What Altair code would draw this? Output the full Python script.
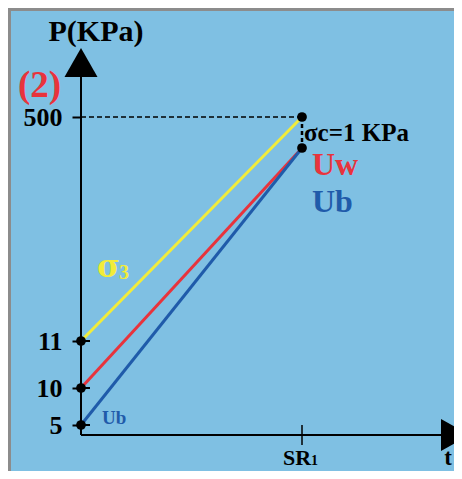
import altair as alt
import pandas as pd

# ---- data -------------------------------------------------------------
series = ["σ3", "Uw", "Ub"]
series_colors = ["#F2EC3A", "#E8333C", "#1F5BAA"]
p_start = [11, 10, 5]          # KPa at t = 0
p_end = [500, 499, 499]        # KPa at t = SR1
t_start = [0, 0, 0]
t_end = [1, 1, 1]              # SR1
y_ticks = [5, 10, 11, 500]
sr1 = 1
sigma_c_top = 500
sigma_c_bottom = 499

# schematic (non-linear) pressure axis
y_domain = [5, 10, 11, 499, 500]
y_range = [417, 380, 333, 140, 109]

serif = "Liberation Serif"
bg = "#7FC0E3"
border = "#8C8C8C"

lines_df = pd.DataFrame(
    [{"series": s, "t": a, "p": b, "o": 0} for s, a, b in zip(series, t_start, p_start)]
    + [{"series": s, "t": a, "p": b, "o": 1} for s, a, b in zip(series, t_end, p_end)]
)
dots_df = pd.DataFrame({
    "t": t_start + [sr1, sr1],
    "p": p_start + [sigma_c_top, sigma_c_bottom],
})
hdash_df = pd.DataFrame({"t": [0], "t2": [sr1], "p": [sigma_c_top]})
vdash_df = pd.DataFrame({"t": [sr1], "p": [sigma_c_top], "p2": [sigma_c_bottom]})
ticks_df = pd.DataFrame({"p": [5, 10, 11]})

xs = alt.Scale(domain=[0, 1], range=[0, 221])
ys = alt.Scale(domain=y_domain, range=y_range, zero=False, nice=False)
yaxis = alt.Axis(
    values=y_ticks, title=None, domain=False, grid=False,
    labelFont=serif, labelFontWeight="bold", labelFontSize=26, labelColor="black",
    tickColor="black", tickSize=9, tickWidth=2, labelPadding=10,
    labelFlush=False, labelOverlap=False, labelBaseline="middle",
)

def X(f="t"):
    return alt.X(f + ":Q", scale=xs, axis=None)

def Y(f="p"):
    return alt.Y(f + ":Q", scale=ys, axis=yaxis)

lines = alt.Chart(lines_df).mark_line(strokeWidth=3).encode(
    x=X(), y=Y(),
    color=alt.Color("series:N", scale=alt.Scale(domain=series, range=series_colors), legend=None),
    detail="series:N",
    order="o:Q",
)
hdash = alt.Chart(hdash_df).mark_rule(color="black", strokeWidth=1.5, strokeDash=[5, 3]).encode(
    x=X(), x2="t2:Q", y=Y()
)
vdash = alt.Chart(vdash_df).mark_rule(color="black", strokeWidth=2.5, strokeDash=[4, 3]).encode(
    x=X(), y=Y(), y2="p2:Q"
)
dots = alt.Chart(dots_df).mark_circle(size=95, color="black", opacity=1).encode(x=X(), y=Y())
right_ticks = alt.Chart(ticks_df).mark_rule(color="black", strokeWidth=2).encode(
    x=alt.value(0), x2=alt.value(9), y=Y()
)
sr_tick = alt.Chart(pd.DataFrame({"t": [sr1]})).mark_rule(color="black", strokeWidth=1.5).encode(
    x=X(), y=alt.value(417), y2=alt.value(437)
)

# axis lines + arrows
yline = alt.Chart().mark_rule(color="black", strokeWidth=2).encode(
    x=alt.value(0), y=alt.value(66), y2=alt.value(427))
xline = alt.Chart().mark_rule(color="black", strokeWidth=1.8).encode(
    x=alt.value(0), x2=alt.value(362), y=alt.value(427))
yarrow = alt.Chart().mark_point(shape="M0,-1L1.14,1L-1.14,1Z", filled=True, size=841,
                                color="black", opacity=1, strokeWidth=0).encode(
    x=alt.value(0), y=alt.value(54.5))
xarrow = alt.Chart().mark_point(shape="M1,0L-1,1.1L-1,-1.1Z", filled=True, size=841,
                                color="black", opacity=1, strokeWidth=0).encode(
    x=alt.value(374.5), y=alt.value(427))

# frame (left/top grey border)
frame_left = alt.Chart().mark_rule(color=border, strokeWidth=3).encode(
    x=alt.value(-71.5), y=alt.value(0), y2=alt.value(480))
frame_top = alt.Chart().mark_rule(color=border, strokeWidth=3).encode(
    x=alt.value(-73), x2=alt.value(400), y=alt.value(1.5))

def label(text, x, y, size, color="black", align="left", baseline="alphabetic", font=serif):
    return alt.Chart().mark_text(
        font=font, fontWeight="bold", fontSize=size, color=color,
        align=align, baseline=baseline,
    ).encode(x=alt.value(x), y=alt.value(y), text=alt.value(text))

texts = [
    label("P(KPa)", 15, 33, 30, align="center"),
    label("(2)", -41.5, 89, 37, color="#E8333C", align="center"),
    label("σc=1 KPa", 223, 125, 25, baseline="middle"),
    label("Uw", 231, 167, 32, color="#E8333C"),
    label("Ub", 231, 204, 32, color="#1F5BAA"),
    label("σ", 16, 269, 31, color="#F2EC3A", font="DejaVu Serif"),
    label("3", 38, 271, 20, color="#F2EC3A"),
    label("Ub", 21, 416, 19, color="#1F5BAA"),
    label("SR", 202, 457, 22),
    label("1", 230, 457, 14),
    label("t", 367, 457, 23, align="center"),
]

chart = alt.layer(
    frame_left, frame_top, lines, hdash, vdash, yline, xline, right_ticks, sr_tick,
    dots, yarrow, xarrow, *texts
).properties(
    width=373, height=427,
    padding={"left": 73, "top": 0, "right": 0, "bottom": 36},
    autosize=alt.AutoSizeParams(type="none"),
    background=bg,
).configure_view(stroke=None)

chart.save("out.html", embed_options={"renderer": "svg", "actions": False})
